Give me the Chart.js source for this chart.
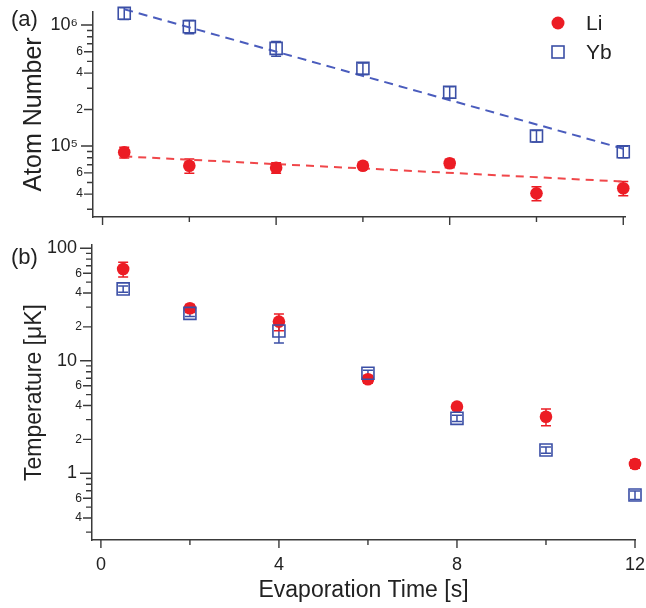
<!DOCTYPE html>
<html><head><meta charset="utf-8">
<script src="https://cdn.jsdelivr.net/npm/chart.js@4/dist/chart.umd.min.js"></script>
<style>
html,body{margin:0;padding:0;background:#fff;}
#wrap{position:relative;width:646px;height:608px;overflow:hidden;}
#c1{position:absolute;left:0;top:0;}
#c2{position:absolute;left:0;top:232px;}
</style></head><body>
<div id="wrap">
<canvas id="c1" width="646" height="232"></canvas>
<canvas id="c2" width="646" height="376"></canvas>
</div>
<script>
// ---- data ----
const times = [0.5, 2, 4, 6, 8, 10, 12];
const liAtoms = [88700, 68700, 66200, 68700, 72000, 40600, 44800];
const liAtomsErr = [9000, 9200, 6600, 4100, 5800, 5400, 6000];
const ybAtoms = [1250000, 968000, 641000, 438000, 278000, 121000, 89700];
const ybAtomsErr = [140000, 120000, 90000, 48000, 30000, 13000, 9800];
const fitTimes = [0.5, 12];
const liAtomsFit = [82000, 50800];
const ybAtomsFit = [1350000, 95000];
const liTemp = [65.4, 29.3, 22.3, 6.85, 3.91, 3.18, 1.21];
const liTempErr = [9.8, 2.4, 3.8, 0.55, 0.25, 0.54, 0.1];
const ybTemp = [43.5, 26.4, 18.4, 7.74, 3.08, 1.61, 0.641];
const ybTempErr = [2.8, 1.7, 4.0, 0.5, 0.2, 0.1, 0.055];

const xTicks = [0, 2, 4, 6, 8, 10, 12];
const xTickLabels = ['0', '', '4', '', '8', '', '12'];
const atomTicks = [3e4, 4e4, 5e4, 6e4, 7e4, 8e4, 9e4, 1e5, 2e5, 3e5, 4e5, 5e5, 6e5, 7e5, 8e5, 9e5, 1e6];
const atomTickLabels = ['', '4', '', '6', '', '', '', '10⁵', '2', '', '4', '', '6', '', '', '', '10⁶'];
const tempTicks = [0.3, 0.4, 0.5, 0.6, 0.7, 0.8, 0.9, 1, 2, 3, 4, 5, 6, 7, 8, 9, 10, 20, 30, 40, 50, 60, 70, 80, 90, 100];
const tempTickLabels = ['', '4', '', '6', '', '', '', '1', '2', '', '4', '', '6', '', '', '', '10', '2', '', '4', '', '6', '', '', '', '100'];

// ---- styles ----
const FONT = '"Liberation Sans", Arial, Helvetica, sans-serif';
const RED = '#ec1c24';
const BLUE = '#3b4fa6';
const RED_FIT = '#f0474a';
const BLUE_FIT = '#4a5cbd';
const AXIS = '#3a3a3a';
const TXT = '#222222';

const isPow10 = v => Math.abs(Math.log10(v) - Math.round(Math.log10(v))) < 1e-9;

const errorBars = {
  id: 'errorBars',
  beforeDatasetsDraw(chart) {
    const ctx = chart.ctx, ys = chart.scales.y;
    chart.data.datasets.forEach((ds, di) => {
      if (!ds.errors) return;
      const meta = chart.getDatasetMeta(di);
      ctx.save();
      ctx.strokeStyle = ds.borderColor; ctx.lineWidth = 1.5;
      meta.data.forEach((pt, i) => {
        const v = ds.data[i].y, e = ds.errors[i];
        const y1 = ys.getPixelForValue(v + e), y2 = ys.getPixelForValue(Math.max(v - e, 1e-9));
        const cw = 5;
        ctx.beginPath();
        ctx.moveTo(pt.x, y1); ctx.lineTo(pt.x, y2);
        ctx.moveTo(pt.x - cw, y1); ctx.lineTo(pt.x + cw, y1);
        ctx.moveTo(pt.x - cw, y2); ctx.lineTo(pt.x + cw, y2);
        ctx.stroke();
      });
      ctx.restore();
    });
  }
};

const tickMarks = {
  id: 'tickMarks',
  afterDraw(chart, args, opts) {
    const ctx = chart.ctx, xs = chart.scales.x, ys = chart.scales.y, a = chart.chartArea;
    ctx.save();
    ctx.strokeStyle = AXIS; ctx.lineWidth = 1.4;
    ctx.beginPath();
    opts.yTicks.forEach((v, i) => {
      const y = ys.getPixelForValue(v);
      const len = isPow10(v) ? 12 : (opts.yLabels[i] ? 9 : 6);
      ctx.moveTo(a.left, y); ctx.lineTo(a.left - len, y);
    });
    xTicks.forEach((v, i) => {
      const x = xs.getPixelForValue(v);
      const len = xTickLabels[i] ? 8 : 5;
      ctx.moveTo(x, a.bottom); ctx.lineTo(x, a.bottom + len);
    });
    ctx.stroke();
    ctx.restore();
  }
};

const panelText = {
  id: 'panelText',
  afterDraw(chart, args, opts) {
    const ctx = chart.ctx;
    ctx.save();
    ctx.fillStyle = TXT;
    ctx.textBaseline = 'middle';
    ctx.textAlign = 'left';
    ctx.font = '22px ' + FONT;
    ctx.fillText(opts.label, 11, opts.labelY);
    if (opts.legend) {
      ctx.fillStyle = RED;
      ctx.beginPath(); ctx.arc(558, 23, 6.5, 0, Math.PI * 2); ctx.fill();
      ctx.strokeStyle = BLUE; ctx.lineWidth = 1.6;
      ctx.strokeRect(552, 46, 12, 12);
      ctx.fillStyle = TXT;
      ctx.font = '21px ' + FONT;
      ctx.fillText(chart.data.datasets[1].label, 586, 24);
      ctx.fillText(chart.data.datasets[0].label, 586, 53);
    }
    ctx.restore();
  }
};

function pts(xs, ys) { return xs.map((x, i) => ({x: x, y: ys[i]})); }

function tickFont(c) {
  const major = c.tick && isPow10(c.tick.value);
  return {family: FONT, size: major ? 18 : 12};
}

function makeDatasets(liVals, liErr, ybVals, ybErr, withFit) {
  const ds = [
    {label: 'Yb', data: pts(times, ybVals), errors: ybErr, pointStyle: 'rect', pointRadius: 8.5,
     borderColor: BLUE, backgroundColor: 'rgba(0,0,0,0)', borderWidth: 1.6, showLine: false, clip: false, order: 0},
    {label: 'Li', data: pts(times, liVals), errors: liErr, pointStyle: 'circle', pointRadius: 6.3,
     borderColor: RED, backgroundColor: RED, borderWidth: 0, showLine: false, clip: false, order: 1}
  ];
  if (withFit) {
    ds.push({type: 'line', label: 'Yb fit', data: pts(fitTimes, ybAtomsFit), borderColor: BLUE_FIT, borderDash: [9, 6],
             borderWidth: 2, pointRadius: 0, fill: false, clip: false, order: 2});
    ds.push({type: 'line', label: 'Li fit', data: pts(fitTimes, liAtomsFit), borderColor: RED_FIT, borderDash: [8, 6],
             borderWidth: 2, pointRadius: 0, fill: false, clip: false, order: 3});
  }
  return ds;
}

function yAxis(min, max, ticksArr, labelsArr, width, title, titleSize, titlePad) {
  return {
    type: 'logarithmic', min: min, max: max, bounds: 'data',
    afterBuildTicks: s => { s.ticks = ticksArr.map(v => ({value: v, major: isPow10(v)})); },
    afterFit: s => { s.width = width; s.paddingTop = 0; s.paddingBottom = 0; },
    grid: {display: false, drawTicks: false},
    border: {display: true, color: AXIS, width: 1.5},
    ticks: {autoSkip: false, padding: 10, color: TXT, font: tickFont,
            callback: (v, i) => { const l = labelsArr[i]; return (l && isPow10(ticksArr[i])) ? l + ' ' : l; }},
    title: {display: true, text: title, color: TXT, font: {family: FONT, size: titleSize, lineHeight: 1},
            padding: {top: titlePad, bottom: 0}}
  };
}

Chart.defaults.font.family = FONT;

new Chart(document.getElementById('c1'), {
  type: 'scatter',
  data: {datasets: makeDatasets(liAtoms, liAtomsErr, ybAtoms, ybAtomsErr, true)},
  options: {
    responsive: false, animation: false, devicePixelRatio: 1,
    layout: {padding: {top: 12, right: 21, left: 0, bottom: 0}},
    plugins: {legend: {display: false}, tooltip: {enabled: false},
              tickMarks: {yTicks: atomTicks, yLabels: atomTickLabels},
              panelText: {label: '(a)', labelY: 20, legend: true}},
    scales: {
      x: {type: 'linear', min: -0.22, max: 12.04,
          afterBuildTicks: s => { s.ticks = xTicks.map(v => ({value: v})); },
          afterFit: s => { s.height = 15; s.paddingLeft = 0; s.paddingRight = 0; },
          grid: {display: false, drawTicks: false},
          border: {display: true, color: AXIS, width: 1.5},
          ticks: {display: false}},
      y: yAxis(2.59e4, 1.28e6, atomTicks, atomTickLabels, 93, 'Atom Number', 25, 22)
    }
  },
  plugins: [errorBars, tickMarks, panelText]
});

new Chart(document.getElementById('c2'), {
  type: 'scatter',
  data: {datasets: makeDatasets(liTemp, liTempErr, ybTemp, ybTempErr, false)},
  options: {
    responsive: false, animation: false, devicePixelRatio: 1,
    layout: {padding: {top: 13, right: 11, left: 0, bottom: 0}},
    plugins: {legend: {display: false}, tooltip: {enabled: false},
              tickMarks: {yTicks: tempTicks, yLabels: tempTickLabels},
              panelText: {label: '(b)', labelY: 26, legend: false}},
    scales: {
      x: {type: 'linear', min: -0.2, max: 12,
          afterBuildTicks: s => { s.ticks = xTicks.map(v => ({value: v})); },
          afterFit: s => { s.height = 68; s.paddingLeft = 0; s.paddingRight = 0; },
          grid: {display: false, drawTicks: false},
          border: {display: true, color: AXIS, width: 1.5},
          ticks: {autoSkip: false, maxRotation: 0, padding: 14, color: TXT, font: {family: FONT, size: 18},
                  callback: (v, i) => xTickLabels[i]},
          title: {display: true, text: 'Evaporation Time [s]', color: TXT,
                  font: {family: FONT, size: 23, lineHeight: 1}, padding: {top: 0, bottom: 5.5}}},
      y: yAxis(0.2553, 106.9, tempTicks, tempTickLabels, 92, 'Temperature [μK]', 23, 23.5)
    }
  },
  plugins: [errorBars, tickMarks, panelText]
});
</script>
</body></html>
